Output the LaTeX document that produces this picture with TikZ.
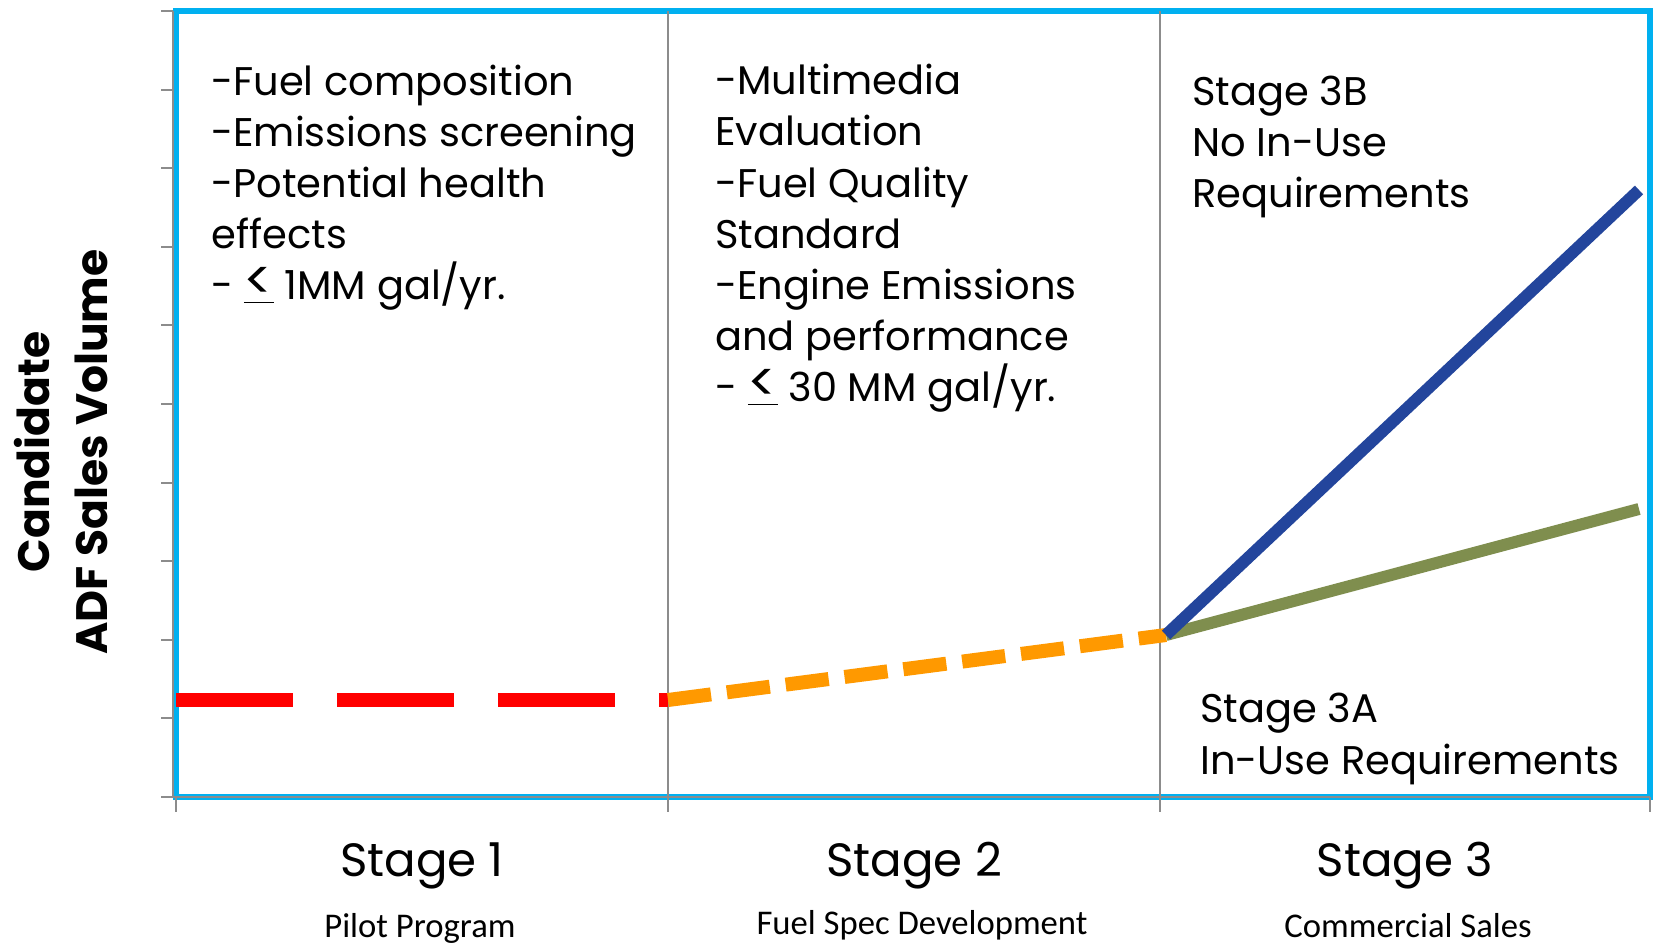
\documentclass[tikz,border=0pt]{standalone}
\usepackage{fontspec}
\usepackage{graphicx}
\setmainfont{Poppins}
\newfontfamily\subfont{Carlito}
\newcommand{\uptolt}{\underline{\scalebox{1.35}{<}}}

\begin{document}
\begin{tikzpicture}[x=0.75pt,y=0.75pt,yscale=-1,xscale=1,
  axisline/.style={color={rgb, 255:red, 140; green, 140; blue, 140 }, line width=1.5},
  bodytext/.style={anchor=base west, align=left, inner sep=0pt, font=\fontsize{30}{38.4}\selectfont},
  stagelabel/.style={anchor=base, inner sep=0pt, font=\fontsize{35}{40}\selectfont},
  sublabel/.style={anchor=base, inner sep=0pt, font=\subfont\fontsize{26}{30}\selectfont}]
\useasboundingbox (0,0) rectangle (1655,944);

%Shape: frame
\draw [color={rgb, 255:red, 0; green, 176; blue, 240 }, line width=4.5] (176,11) rectangle (1650,797);

%Straight Lines: dividers
\draw [axisline] (668,11) -- (668,797);
\draw [axisline] (1160,11) -- (1160,797);

%yAxis
\draw [axisline] (173,11) -- (173,797) -- (1650,797);
\foreach \k in {0,...,10}
  \draw [axisline] (161,{11+78.6*\k}) -- (173,{11+78.6*\k});
\foreach \x in {176,668,1160,1650}
  \draw [axisline] (\x,797) -- (\x,812);

%%^ VOLUME LINES %%%
\coordinate (pilotstart) at (176,700);
\coordinate (pilotend) at (668,700);
\coordinate (specend) at (1166,635);
\coordinate (nouseend) at (1639,190);
\coordinate (inuseend) at (1639,509);

%Straight Lines: pilot
\draw [color={rgb, 255:red, 255; green, 0; blue, 0 }, line width=10.5, dash pattern={on 87.75pt off 33pt}] (pilotstart) -- (pilotend);
%Straight Lines: spec
\draw [color={rgb, 255:red, 255; green, 153; blue, 0 }, line width=10.5, dash pattern={on 32.5pt off 12pt}] (pilotend) -- (specend);
%Straight Lines: 3A
\draw [color={rgb, 255:red, 127; green, 142; blue, 78 }, line width=9] (specend) -- (inuseend);
%Straight Lines: 3B
\draw [color={rgb, 255:red, 35; green, 69; blue, 156 }, line width=9] (specend) -- (nouseend);

% Text Node (anchored on last line)
\node (pilottxt) [bodytext] at (211,300) {-Fuel composition\\-Emissions screening\\-Potential health\\effects\\- \uptolt{} 1MM gal/yr.};
% Text Node
\node (spectxt) [bodytext] at (715,402) {-Multimedia\\Evaluation\\-Fuel Quality\\Standard\\-Engine Emissions\\and performance\\- \uptolt{} 30 MM gal/yr.};
% Text Node
\node (nousetxt) [bodytext] at (1192,208) {Stage 3B\\No In-Use\\Requirements};
% Text Node
\node (inusetxt) [bodytext] at (1200,774) {Stage 3A\\In-Use Requirements};

% Text Node
\node (stageone) [stagelabel] at (422,876) {Stage 1};
\node (stagetwo) [stagelabel] at (914,876) {Stage 2};
\node (stagethree) [stagelabel] at (1405,876) {Stage 3};
% Text Node
\node (pilotsub) [sublabel] at (420,937) {Pilot Program};
\node (specsub) [sublabel] at (922,934) {Fuel Spec Development};
\node (salessub) [sublabel] at (1408,937) {Commercial Sales};

% Text Node
\node (ylabel) [rotate=90, align=center, inner sep=0pt, font=\bfseries\fontsize{33}{43.5}\selectfont] at (61,452) {Candidate\\ADF Sales Volume};

\end{tikzpicture}
\end{document}
